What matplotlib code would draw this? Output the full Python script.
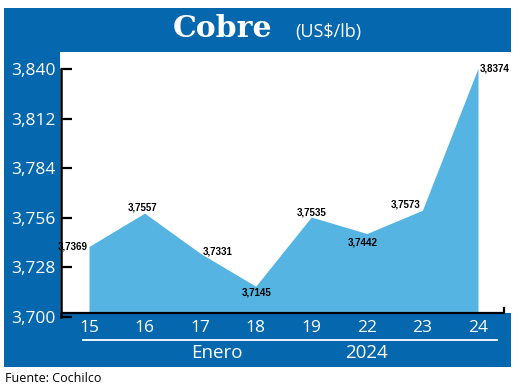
import matplotlib
matplotlib.use("Agg")
import matplotlib.pyplot as plt
from matplotlib.patches import Rectangle

# data
days = ['15', '16', '17', '18', '19', '22', '23', '24']
prices = [3.7369, 3.7557, 3.7331, 3.7145, 3.7535, 3.7442, 3.7573, 3.8374]
yticks = [3.700, 3.728, 3.756, 3.784, 3.812, 3.840]
month_label = 'Enero'
year_label = '2024'

BLUE = '#0567ad'
FILL = '#56b4e3'
W, H = 520, 388

def fx(x):
    return x / W

def fy(y):
    return 1 - y / H

fig = plt.figure(figsize=(5.2, 3.88), dpi=100, facecolor='white')

# blue frame behind everything
fig.patches.append(Rectangle((fx(4), fy(367)), fx(507), 359 / H, transform=fig.transFigure,
                             facecolor=BLUE, edgecolor='none', zorder=-5))

# white plot area with the data
ax = fig.add_axes([fx(60), fy(313), fx(451), 261 / H])
ax.set_facecolor('white')
x = list(range(len(days)))
ax.fill_between(x, 3.700, prices, color=FILL, linewidth=0, zorder=2)
ax.set_xlim(-0.522, 7.594)
ax.set_ylim(3.6994, 3.8465)
for s in ax.spines.values():
    s.set_visible(False)
ax.set_yticks([])
ax.set_xticks(x)
ax.set_xticklabels(days, color='white', fontsize=12.5, family='Open Sans')
ax.tick_params(axis='x', length=0, pad=5)
ax.plot([0.004, 0.984, 0.984], [0, 0, 0.02], color='black', lw=1.6,
        transform=ax.transAxes, clip_on=False, zorder=5)

# value labels
offsets = [(-1, 0, 'right', 'center'), (-2, 1, 'center', 'bottom'),
           (3, 2, 'left', 'center'), (1, -1, 'center', 'top'),
           (0, 0, 'center', 'bottom'), (-4, -4, 'center', 'top'),
           (-2, 1, 'right', 'bottom'), (2, 0, 'left', 'center')]
for xi, v, (dx, dy, ha, va) in zip(x, prices, offsets):
    ax.annotate(f'{v:.4f}'.replace('.', ','), (xi, v), xytext=(dx * 0.72, dy * 0.72),
                textcoords='offset points', ha=ha, va=va, fontsize=7, fontweight='bold',
                family='Liberation Sans', color='black', zorder=6)

# y axis with ticks
yax = fig.add_axes([fx(61), fy(317), fx(1), 248 / H])
yax.patch.set_visible(False)
yax.set_ylim(3.700, 3.840)
yax.set_xticks([])
for k in ['top', 'right', 'bottom']:
    yax.spines[k].set_visible(False)
yax.spines['left'].set_linewidth(1.8)
yax.set_yticks(yticks)
yax.set_yticklabels([f'{t:.3f}'.replace('.', ',') for t in yticks], color='white',
                    fontsize=12.5, family='Open Sans')
yax.tick_params(axis='y', direction='in', length=8, width=1.6, pad=4)

# title
fig.text(fx(173), fy(37), 'Cobre', color='white', fontsize=21.5, fontweight='bold',
         family='DejaVu Serif', ha='left', va='baseline')
fig.text(fx(295), fy(37), '(US$/lb)', color='white', fontsize=13, family='Open Sans',
         ha='left', va='baseline')

# footer
fig.add_artist(plt.Line2D([fx(83), fx(497)], [fy(340), fy(340)], color='white', lw=1.3))
fig.text(fx(217), fy(353), month_label, color='white', fontsize=13.5, family='Open Sans',
         ha='center', va='center')
fig.text(fx(367), fy(353), year_label, color='white', fontsize=13.5, family='Open Sans',
         ha='center', va='center')
fig.text(fx(5), fy(378), 'Fuente: Cochilco', color='black', fontsize=9, family='Open Sans',
         ha='left', va='center')

fig.savefig('out.png', dpi=100)
